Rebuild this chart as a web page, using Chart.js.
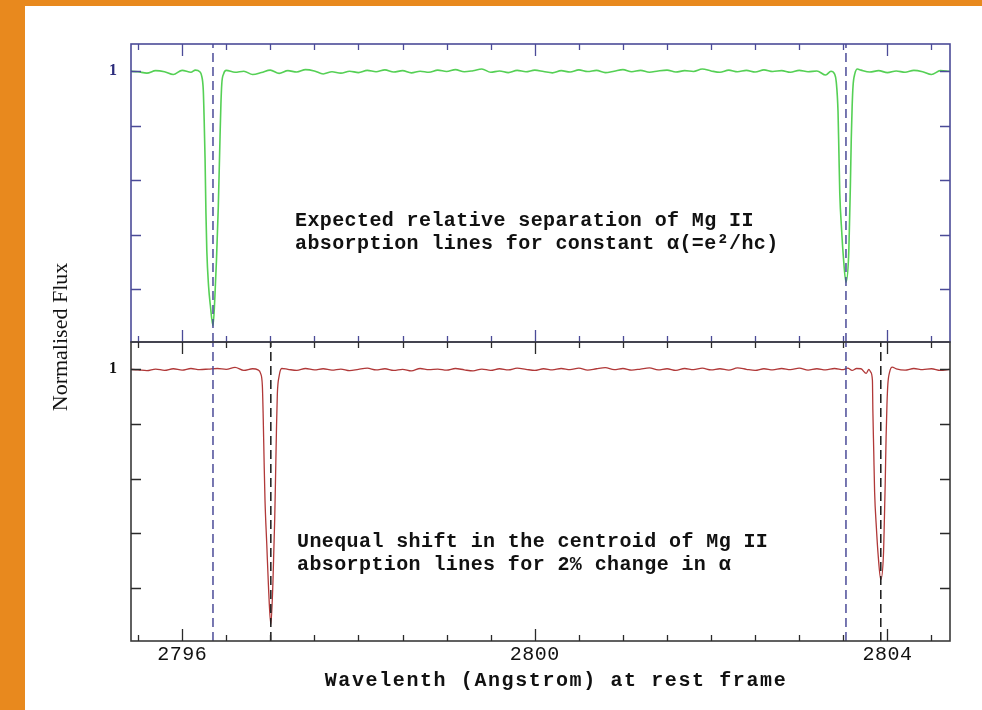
<!DOCTYPE html>
<html>
<head>
<meta charset="utf-8">
<script src="https://cdn.jsdelivr.net/npm/chart.js@4.4.1/dist/chart.umd.min.js"></script>
<style>
  html, body { margin: 0; padding: 0; }
  body { width: 982px; height: 710px; background: #e8891e; position: relative; overflow: hidden; }
  #sheet { position: absolute; left: 25px; top: 6px; right: 0; bottom: 0; background: #fff; }
  canvas { position: absolute; left: 0; top: 0; }
</style>
</head>
<body>
<div id="sheet"></div>
<canvas id="topChart" width="982" height="710"></canvas>
<canvas id="botChart" width="982" height="710"></canvas>
<script>
// wavelength range and ticks (Angstrom)
const lamMin = 2795.42;
const lamMax = 2804.71;
const xTickValues = [2795.5, 2796, 2796.5, 2797, 2797.5, 2798, 2798.5, 2799, 2799.5, 2800,
  2800.5, 2801, 2801.5, 2802, 2802.5, 2803, 2803.5, 2804, 2804.5];
const xMajorTicks = [2796, 2800, 2804];
const xTickLabels = ['2796', '2800', '2804'];
const yTickValues = [0.2, 0.4, 0.6, 0.8, 1.0];
const yTickLabels = ['1'];

// rest-frame Mg II lines and the shifted centroids
const restLines = [2796.35, 2803.53];
const shiftedLines = [2797.006, 2803.925];

// top spectrum (constant alpha)
const topLam = [
  2795.4, 2795.5, 2795.6, 2795.7, 2795.8, 2795.9, 2796.0, 2796.1, 2796.15, 2796.2,
  2796.22, 2796.24, 2796.25, 2796.26, 2796.27, 2796.28, 2796.30, 2796.32, 2796.35, 2796.37,
  2796.39, 2796.41, 2796.43, 2796.44, 2796.45, 2796.47, 2796.5, 2796.6, 2796.7, 2796.8,
  2796.9, 2797.0, 2797.1, 2797.2, 2797.3, 2797.4, 2797.5, 2797.6, 2797.7, 2797.8,
  2797.9, 2798.0, 2798.1, 2798.2, 2798.3, 2798.4, 2798.5, 2798.6, 2798.7, 2798.8,
  2798.9, 2799.0, 2799.1, 2799.2, 2799.3, 2799.4, 2799.5, 2799.6, 2799.7, 2799.8,
  2799.9, 2800.0, 2800.1, 2800.2, 2800.3, 2800.4, 2800.5, 2800.6, 2800.7, 2800.8,
  2800.9, 2801.0, 2801.1, 2801.2, 2801.3, 2801.4, 2801.5, 2801.6, 2801.7, 2801.8,
  2801.9, 2802.0, 2802.1, 2802.2, 2802.3, 2802.4, 2802.5, 2802.6, 2802.7, 2802.8,
  2802.9, 2803.0, 2803.1, 2803.2, 2803.3, 2803.36, 2803.40, 2803.42, 2803.44, 2803.45,
  2803.46, 2803.48, 2803.50, 2803.53, 2803.56, 2803.57, 2803.58, 2803.59, 2803.60, 2803.61,
  2803.63, 2803.66, 2803.7, 2803.8, 2803.9, 2804.0, 2804.1, 2804.2, 2804.3, 2804.4,
  2804.5, 2804.6, 2804.7
];
const topFlux = [
  1.000, 0.998, 0.993, 1.002, 0.998, 0.988, 1.003, 0.996, 1.004, 0.998,
  0.985, 0.930, 0.820, 0.680, 0.480, 0.340, 0.210, 0.140, 0.065, 0.160,
  0.310, 0.500, 0.760, 0.880, 0.955, 0.990, 1.003, 0.996, 1.000, 0.988,
  0.995, 1.004, 0.992, 1.002, 0.997, 1.006, 1.001, 0.990, 0.998, 0.993,
  1.000, 0.995, 1.003, 0.998, 1.005, 0.997, 1.002, 0.994, 1.000, 0.996,
  1.004, 0.999, 1.006, 0.998, 1.002, 1.008, 0.996, 1.001, 0.995, 1.003,
  0.998, 1.004, 0.999, 0.994, 1.002, 0.997, 1.005, 0.999, 1.003, 0.995,
  1.000, 1.006, 0.998, 1.003, 0.996, 1.001, 1.004, 0.997, 1.002, 0.999,
  1.008, 1.001, 0.996, 1.004, 0.998, 1.003, 0.997, 1.005, 0.999, 1.002,
  0.996, 1.003, 0.998, 1.001, 0.986, 1.000, 0.990, 0.960, 0.850, 0.700,
  0.550, 0.420, 0.320, 0.225, 0.320, 0.440, 0.580, 0.750, 0.870, 0.945,
  0.990, 1.008, 1.004, 0.997, 1.002, 0.995, 1.001, 0.996, 1.003, 0.998,
  0.988, 1.002, 1.000
];

// bottom spectrum (2% change in alpha)
const botLam = [
  2795.4, 2795.5, 2795.6, 2795.7, 2795.8, 2795.9, 2796.0, 2796.1, 2796.2, 2796.3,
  2796.4, 2796.5, 2796.6, 2796.7, 2796.8, 2796.86, 2796.89, 2796.91, 2796.92, 2796.93,
  2796.94, 2796.96, 2796.98, 2797.006, 2797.03, 2797.05, 2797.06, 2797.07, 2797.08, 2797.10,
  2797.13, 2797.2, 2797.3, 2797.4, 2797.5, 2797.6, 2797.7, 2797.8, 2797.9, 2798.0,
  2798.1, 2798.2, 2798.3, 2798.4, 2798.5, 2798.6, 2798.7, 2798.8, 2798.9, 2799.0,
  2799.1, 2799.2, 2799.3, 2799.4, 2799.5, 2799.6, 2799.7, 2799.8, 2799.9, 2800.0,
  2800.1, 2800.2, 2800.3, 2800.4, 2800.5, 2800.6, 2800.7, 2800.8, 2800.9, 2801.0,
  2801.1, 2801.2, 2801.3, 2801.4, 2801.5, 2801.6, 2801.7, 2801.8, 2801.9, 2802.0,
  2802.1, 2802.2, 2802.3, 2802.4, 2802.5, 2802.6, 2802.7, 2802.8, 2802.9, 2803.0,
  2803.1, 2803.2, 2803.3, 2803.4, 2803.5, 2803.55, 2803.6, 2803.65, 2803.7, 2803.76,
  2803.79, 2803.81, 2803.83, 2803.835, 2803.845, 2803.855, 2803.875, 2803.895, 2803.925, 2803.955,
  2803.965, 2803.975, 2803.985, 2803.995, 2804.005, 2804.025, 2804.055, 2804.1, 2804.2, 2804.3,
  2804.4, 2804.5, 2804.6, 2804.7
];
const botFlux = [
  1.000, 0.998, 0.995, 1.001, 0.996, 1.002, 0.997, 1.003, 0.999, 1.001,
  1.003, 1.000, 1.007, 0.996, 1.002, 0.998, 0.985, 0.940, 0.820, 0.660,
  0.520, 0.360, 0.200, 0.065, 0.220, 0.450, 0.610, 0.780, 0.910, 0.975,
  1.003, 1.000, 0.996, 1.003, 0.998, 1.002, 0.997, 1.001, 0.995, 1.000,
  1.004, 0.998, 1.002, 0.996, 1.000, 0.994, 1.003, 0.999, 1.001, 0.997,
  1.003, 0.998, 0.994, 1.001, 0.996, 1.002, 0.998, 1.004, 1.000, 0.996,
  1.002, 0.998, 1.003, 0.999, 1.004, 0.997, 1.002, 1.006, 0.999, 1.003,
  0.997, 1.001, 1.005, 0.998, 1.002, 0.996, 1.003, 0.999, 1.004, 0.998,
  1.002, 0.997, 1.005, 1.000, 0.996, 1.002, 0.998, 1.003, 0.999, 1.004,
  0.997, 1.002, 0.998, 1.003, 0.999, 1.004, 0.996, 1.003, 1.002, 0.985,
  1.000, 0.990, 0.960, 0.850, 0.700, 0.550, 0.420, 0.320, 0.230, 0.320,
  0.440, 0.580, 0.750, 0.870, 0.945, 0.990, 1.008, 1.002, 0.997, 1.003,
  0.999, 1.002, 0.996, 1.000
];

const topNotes = ['Expected relative separation of Mg II', 'absorption lines for constant \u03b1(=e\u00b2/hc)'];
const botNotes = ['Unequal shift in the centroid of Mg II', 'absorption lines for 2% change in \u03b1'];

const yMin = 0.005, yMax = 1.1;

function toPoints(xs, ys) {
  return xs.map((v, i) => ({ x: v, y: ys[i] }));
}
function vLine(lam) {
  return [{ x: lam, y: yMin }, { x: lam, y: yMax }];
}
function dashSet(lam, color) {
  return { data: vLine(lam), borderColor: color, borderWidth: 1.5, borderDash: [9, 5], pointRadius: 0, tension: 0 };
}

// frame, inward ticks, "1" label and notes for each panel
const panelPlugin = {
  id: 'panel',
  afterDatasetsDraw(chart, args, opts) {
    const { ctx, chartArea: a, scales: { x, y } } = chart;
    ctx.save();
    ctx.strokeStyle = opts.frameColor;
    ctx.lineWidth = 1.6;
    ctx.strokeRect(a.left, a.top, a.right - a.left, a.bottom - a.top);
    ctx.lineWidth = 1.3;
    ctx.strokeStyle = opts.tickColor;
    ctx.beginPath();
    xTickValues.forEach(v => {
      const px = Math.round(x.getPixelForValue(v)) + 0.5;
      const len = xMajorTicks.includes(v) ? 12 : 6;
      ctx.moveTo(px, a.top); ctx.lineTo(px, a.top + len);
      ctx.moveTo(px, a.bottom); ctx.lineTo(px, a.bottom - len);
    });
    yTickValues.forEach(v => {
      const py = Math.round(y.getPixelForValue(v)) + 0.5;
      ctx.moveTo(a.left, py); ctx.lineTo(a.left + 10, py);
      ctx.moveTo(a.right, py); ctx.lineTo(a.right - 10, py);
    });
    ctx.stroke();

    ctx.fillStyle = opts.labelColor;
    ctx.font = 'bold 16px "Liberation Serif"';
    ctx.textAlign = 'center';
    ctx.textBaseline = 'middle';
    ctx.fillText(yTickLabels[0], 113, y.getPixelForValue(1.0));

    ctx.fillStyle = '#111';
    ctx.font = 'bold 20px "Liberation Mono"';
    ctx.letterSpacing = '0.4px';
    ctx.textAlign = 'left';
    opts.notes.forEach((t, i) => ctx.fillText(t, opts.noteX, opts.noteY + i * 23));
    ctx.restore();
  }
};

// axis labels drawn once, with the bottom panel
const axisTextPlugin = {
  id: 'axisText',
  afterDraw(chart) {
    const { ctx, chartArea: a, scales: { x } } = chart;
    ctx.save();
    ctx.fillStyle = '#111';
    ctx.textAlign = 'center';
    ctx.textBaseline = 'middle';
    ctx.font = '20px "Liberation Mono"';
    ctx.letterSpacing = '0.5px';
    xMajorTicks.forEach((v, i) => ctx.fillText(xTickLabels[i], x.getPixelForValue(v), a.bottom + 14));
    ctx.font = 'bold 20px "Liberation Mono"';
    ctx.letterSpacing = '1.6px';
    ctx.fillText('Wavelenth (Angstrom) at rest frame', 556, a.bottom + 40);
    ctx.letterSpacing = '0px';
    ctx.font = '22px "Liberation Serif"';
    ctx.translate(61, 337);
    ctx.rotate(-Math.PI / 2);
    ctx.fillText('Normalised Flux', 0, 0);
    ctx.restore();
  }
};

function panelOptions(padding, panel) {
  return {
    responsive: false,
    animation: false,
    layout: { padding: padding },
    scales: {
      x: { type: 'linear', min: lamMin, max: lamMax, display: false },
      y: { type: 'linear', min: yMin, max: yMax, display: false }
    },
    plugins: { legend: { display: false }, tooltip: { enabled: false }, panel: panel }
  };
}

const blue = '#4b4b98';

new Chart(document.getElementById('topChart'), {
  type: 'line',
  data: {
    datasets: [
      dashSet(restLines[0], blue),
      dashSet(restLines[1], blue),
      {
        data: toPoints(topLam, topFlux),
        borderColor: '#55d055',
        borderWidth: 1.6,
        pointRadius: 0,
        cubicInterpolationMode: 'monotone'
      }
    ]
  },
  options: panelOptions({ left: 131, right: 32, top: 44, bottom: 368 },
    { frameColor: blue, tickColor: blue, labelColor: '#2c2c7c', notes: topNotes, noteX: 295, noteY: 221 }),
  plugins: [panelPlugin]
});

new Chart(document.getElementById('botChart'), {
  type: 'line',
  data: {
    datasets: [
      dashSet(restLines[0], blue),
      dashSet(restLines[1], blue),
      dashSet(shiftedLines[0], '#1a1a1a'),
      dashSet(shiftedLines[1], '#1a1a1a'),
      {
        data: toPoints(botLam, botFlux),
        borderColor: '#b03838',
        borderWidth: 1.3,
        pointRadius: 0,
        cubicInterpolationMode: 'monotone'
      }
    ]
  },
  options: panelOptions({ left: 131, right: 32, top: 342, bottom: 69 },
    { frameColor: '#3a3a3a', tickColor: '#2a2a2a', labelColor: '#111', notes: botNotes, noteX: 297, noteY: 542 }),
  plugins: [panelPlugin, axisTextPlugin]
});
</script>
</body>
</html>
